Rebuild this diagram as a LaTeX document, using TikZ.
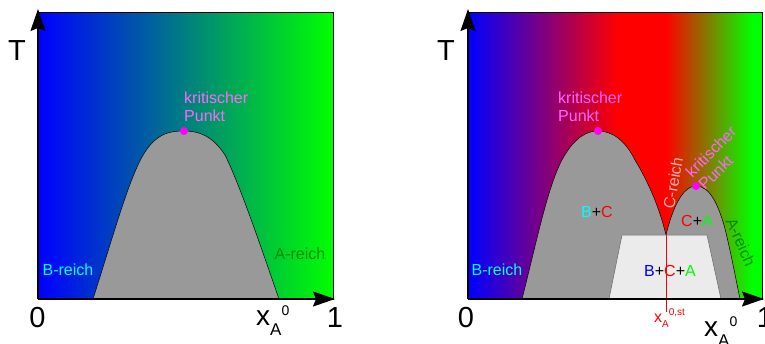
\documentclass[tikz,border=0pt]{standalone}
\usepackage{fontspec}
\setmainfont{Liberation Sans}
\usetikzlibrary{arrows.meta}
\definecolor{humpgray}{RGB}{153,153,153}
\definecolor{trapgray}{RGB}{235,235,235}
\definecolor{critcol}{RGB}{255,102,255}
\definecolor{critdot}{RGB}{255,0,255}
\definecolor{agreen}{RGB}{0,140,0}
\definecolor{cpink}{RGB}{255,175,175}
\definecolor{bcyan}{RGB}{0,255,255}
\definecolor{pblue}{RGB}{0,0,255}
\definecolor{pred}{RGB}{255,0,0}
\definecolor{pgreen}{RGB}{0,255,0}
\tikzset{
  lbl/.style={font=\fontsize{16}{18}\selectfont, inner sep=0pt},
  biglbl/.style={font=\fontsize{29}{30}\selectfont, inner sep=0pt},
  hump/.style={fill=humpgray, draw=black, line width=0.5pt},
  trap/.style={fill=trapgray, draw=black!60, line width=0.5pt},
  frame/.style={draw=black, line width=0.8pt},
  axis/.style={line width=1.6pt, -{Stealth[length=22pt,width=15pt,inset=3pt]}},
  critpt/.style={circle, fill=critdot, inner sep=0pt, minimum size=8pt},
}
\newcommand{\xazero}{{\fontsize{28}{28}\selectfont x}\raisebox{-10pt}{\fontsize{17}{17}\selectfont A}\raisebox{10pt}{\fontsize{14}{14}\selectfont 0}}
\begin{document}
\begin{tikzpicture}[x=1pt,y=-1pt]
\useasboundingbox (0,0) rectangle (765,343);
% ---------------- left panel ----------------
\fill[left color=pblue, right color=pgreen] (38,12) rectangle (333,299);
\draw[frame] (38,12) rectangle (333,299);
\coordinate (l1) at (93,299);
\coordinate (lpk) at (184,131);
\coordinate (r1) at (279,299);
\draw[hump] (l1) .. controls (115,230) and (130,175) .. (145,152)
  .. controls (158,132) and (172,131) .. (lpk)
  .. controls (198,131) and (212,135) .. (225,155)
  .. controls (240,185) and (262,250) .. (r1) -- cycle;
\coordinate (o1) at (38,299);
\coordinate (ty1) at (38,9);
\coordinate (tx1) at (335,299);
\draw[axis] (o1) -- (ty1);
\draw[axis] (o1) -- (tx1);
\node[critpt] (cp1) at (lpk) {};
\node[lbl, text=critcol, align=left, anchor=north west] (kp1) at (184,92) {kritischer\\Punkt};
\node[lbl, text=bcyan] (br1) at (68,270) {B-reich};
\node[lbl, text=agreen] (ar1) at (300,254) {A-reich};
\node[biglbl] (T1) at (17,51) {T};
\node[biglbl] (z1) at (37.5,317.5) {0};
\node[biglbl] (one1) at (335,317.5) {1};
\node[inner sep=0pt, anchor=base west] (xa1) at (256,325) {\xazero};
% ---------------- right panel ----------------
\fill[left color=pblue, right color=pred] (468,12) rectangle (618,299);
\fill[pred] (617.5,12) rectangle (666,299);
\fill[left color=pred, right color=pgreen] (665.5,12) rectangle (752,299);
\fill[pgreen] (751.5,12) rectangle (762,299);
\draw[frame] (468,12) rectangle (762,299);
\coordinate (l2) at (522,299);
\coordinate (pk2) at (598,131);
\coordinate (cusp) at (666,235);
\coordinate (pk3) at (696,186);
\coordinate (r2) at (740,299);
\draw[hump] (l2) .. controls (537,240) and (548,185) .. (563,158)
  .. controls (575,137) and (587,131) .. (pk2)
  .. controls (612,131) and (625,140) .. (635,160)
  .. controls (650,185) and (660,210) .. (cusp)
  .. controls (672,210) and (682,186) .. (pk3)
  .. controls (710,186) and (718,205) .. (724,225)
  .. controls (730,248) and (735,275) .. (r2) -- cycle;
\draw[trap] (609,299) -- (622,235) -- (707,235) -- (721,299) -- cycle;
\coordinate (stbot) at (666,312);
\draw[pred, line width=0.6pt] (cusp) -- (stbot);
\coordinate (o2) at (468,299);
\coordinate (ty2) at (468,9);
\coordinate (tx2) at (764,299);
\draw[axis] (o2) -- (ty2);
\draw[axis] (o2) -- (tx2);
\node[critpt] (cp2) at (pk2) {};
\node[critpt] (cp3) at (pk3) {};
\node[lbl, text=critcol, align=left, anchor=north west] (kp2) at (558,92) {kritischer\\Punkt};
\node[lbl, text=critcol, align=left, anchor=north west, rotate=45] (kp3) at (684,170) {kritischer\\Punkt};
\node[lbl, text=cpink, rotate=80] (cr) at (673,183) {C-reich};
\node[lbl, text=agreen, rotate=-66] (ar2) at (741,242) {A-reich};
\node[lbl, text=bcyan] (br2) at (497,270) {B-reich};
\node[lbl] (bc) at (597,212) {\textcolor{bcyan}{B}+\textcolor{pred}{C}};
\node[lbl] (ca) at (697,221) {\textcolor{pred}{C}+\textcolor{pgreen}{A}};
\node[lbl] (bca) at (670,271) {\textcolor{pblue}{B}+\textcolor{pred}{C}+\textcolor{pgreen}{A}};
\node[biglbl] (T2) at (446,51) {T};
\node[biglbl] (z2) at (466,317.5) {0};
\node[biglbl] (one2) at (765,317.5) {1};
\node[inner sep=0pt, anchor=base west] (xa2) at (704,336) {\xazero};
\node[inner sep=0pt, anchor=base west, text=pred] (xst) at (654,322) {{\fontsize{16}{16}\selectfont x}\raisebox{-5pt}{\fontsize{10}{10}\selectfont A}\raisebox{7pt}{\fontsize{10}{10}\selectfont 0,st}};
\end{tikzpicture}
\end{document}
